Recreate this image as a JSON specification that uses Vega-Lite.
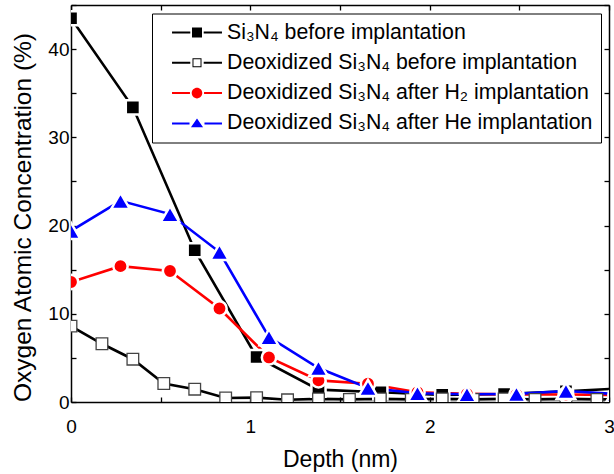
{
  "$schema": "https://vega.github.io/schema/vega-lite/v6.json",
  "width": 538,
  "height": 397,
  "autosize": "none",
  "padding": {"left": 71, "top": 5, "right": 5, "bottom": 72},
  "background": "white",
  "config": {
    "view": {"stroke": null},
    "font": "Liberation Sans",
    "axis": {
      "grid": false,
      "domainColor": "black",
      "domainWidth": 1.5,
      "tickColor": "black",
      "tickWidth": 1.3,
      "labelFont": "Liberation Sans",
      "labelFontSize": 19,
      "labelColor": "black",
      "titleFont": "Liberation Sans",
      "titleFontWeight": "normal",
      "titleColor": "black"
    }
  },
  "datasets": {
    "profiles": [
      {"series": "Si₃N₄ before implantation", "depth": 0, "conc": 43.5},
      {"series": "Si₃N₄ before implantation", "depth": 0.345, "conc": 33.4},
      {"series": "Si₃N₄ before implantation", "depth": 0.69, "conc": 17.2},
      {"series": "Si₃N₄ before implantation", "depth": 1.035, "conc": 5.1},
      {"series": "Si₃N₄ before implantation", "depth": 1.38, "conc": 1.4},
      {"series": "Si₃N₄ before implantation", "depth": 1.725, "conc": 1.1},
      {"series": "Si₃N₄ before implantation", "depth": 2.07, "conc": 0.8},
      {"series": "Si₃N₄ before implantation", "depth": 2.415, "conc": 0.9},
      {"series": "Si₃N₄ before implantation", "depth": 2.76, "conc": 1.2},
      {"series": "Si₃N₄ before implantation", "depth": 3.105, "conc": 1.6},
      {"series": "Deoxidized Si₃N₄ before implantation", "depth": 0, "conc": 8.6},
      {"series": "Deoxidized Si₃N₄ before implantation", "depth": 0.1725, "conc": 6.6},
      {"series": "Deoxidized Si₃N₄ before implantation", "depth": 0.345, "conc": 4.85},
      {"series": "Deoxidized Si₃N₄ before implantation", "depth": 0.5175, "conc": 2.1},
      {"series": "Deoxidized Si₃N₄ before implantation", "depth": 0.69, "conc": 1.45},
      {"series": "Deoxidized Si₃N₄ before implantation", "depth": 0.8625, "conc": 0.45},
      {"series": "Deoxidized Si₃N₄ before implantation", "depth": 1.035, "conc": 0.5},
      {"series": "Deoxidized Si₃N₄ before implantation", "depth": 1.2075, "conc": 0.25},
      {"series": "Deoxidized Si₃N₄ before implantation", "depth": 1.38, "conc": 0.35},
      {"series": "Deoxidized Si₃N₄ before implantation", "depth": 1.5525, "conc": 0.3},
      {"series": "Deoxidized Si₃N₄ before implantation", "depth": 1.725, "conc": 0.35},
      {"series": "Deoxidized Si₃N₄ before implantation", "depth": 1.8975, "conc": 0.3},
      {"series": "Deoxidized Si₃N₄ before implantation", "depth": 2.07, "conc": 0.35},
      {"series": "Deoxidized Si₃N₄ before implantation", "depth": 2.2425, "conc": 0.3},
      {"series": "Deoxidized Si₃N₄ before implantation", "depth": 2.415, "conc": 0.35},
      {"series": "Deoxidized Si₃N₄ before implantation", "depth": 2.5875, "conc": 0.3},
      {"series": "Deoxidized Si₃N₄ before implantation", "depth": 2.76, "conc": 0.35},
      {"series": "Deoxidized Si₃N₄ before implantation", "depth": 2.9325, "conc": 0.3},
      {"series": "Deoxidized Si₃N₄ before implantation", "depth": 3.105, "conc": 0.3},
      {"series": "Deoxidized Si₃N₄ after H₂ implantation", "depth": 0, "conc": 13.6},
      {"series": "Deoxidized Si₃N₄ after H₂ implantation", "depth": 0.276, "conc": 15.4},
      {"series": "Deoxidized Si₃N₄ after H₂ implantation", "depth": 0.552, "conc": 14.85},
      {"series": "Deoxidized Si₃N₄ after H₂ implantation", "depth": 0.828, "conc": 10.6},
      {"series": "Deoxidized Si₃N₄ after H₂ implantation", "depth": 1.104, "conc": 5.05},
      {"series": "Deoxidized Si₃N₄ after H₂ implantation", "depth": 1.38, "conc": 2.45},
      {"series": "Deoxidized Si₃N₄ after H₂ implantation", "depth": 1.656, "conc": 2.07},
      {"series": "Deoxidized Si₃N₄ after H₂ implantation", "depth": 1.932, "conc": 1.1},
      {"series": "Deoxidized Si₃N₄ after H₂ implantation", "depth": 2.208, "conc": 0.92},
      {"series": "Deoxidized Si₃N₄ after H₂ implantation", "depth": 2.484, "conc": 0.85},
      {"series": "Deoxidized Si₃N₄ after H₂ implantation", "depth": 2.76, "conc": 0.85},
      {"series": "Deoxidized Si₃N₄ after H₂ implantation", "depth": 3.036, "conc": 0.8},
      {"series": "Deoxidized Si₃N₄ after He implantation", "depth": 0, "conc": 19.4},
      {"series": "Deoxidized Si₃N₄ after He implantation", "depth": 0.276, "conc": 22.8},
      {"series": "Deoxidized Si₃N₄ after He implantation", "depth": 0.552, "conc": 21.3},
      {"series": "Deoxidized Si₃N₄ after He implantation", "depth": 0.828, "conc": 17.0},
      {"series": "Deoxidized Si₃N₄ after He implantation", "depth": 1.104, "conc": 7.35},
      {"series": "Deoxidized Si₃N₄ after He implantation", "depth": 1.38, "conc": 3.85},
      {"series": "Deoxidized Si₃N₄ after He implantation", "depth": 1.656, "conc": 1.6},
      {"series": "Deoxidized Si₃N₄ after He implantation", "depth": 1.932, "conc": 1.0},
      {"series": "Deoxidized Si₃N₄ after He implantation", "depth": 2.208, "conc": 0.88},
      {"series": "Deoxidized Si₃N₄ after He implantation", "depth": 2.484, "conc": 0.92},
      {"series": "Deoxidized Si₃N₄ after He implantation", "depth": 2.76, "conc": 1.25},
      {"series": "Deoxidized Si₃N₄ after He implantation", "depth": 3.036, "conc": 0.9}
    ]
  },
  "data": {"name": "profiles"},
  "resolve": {"axis": {"x": "independent", "y": "independent"}},
  "layer": [
    {
      "transform": [{"filter": "datum.series === 'Si₃N₄ before implantation'"}],
      "mark": {"type": "line", "strokeWidth": 2.6, "clip": true, "color": "#000000"},
      "encoding": {
        "x": {
          "field": "depth", "type": "quantitative",
          "scale": {"domain": [0, 3], "nice": false, "zero": false},
          "axis": {
            "orient": "bottom",
            "title": "Depth (nm)",
            "titleFontSize": 23,
            "titlePadding": 12,
            "values": [0, 0.5, 1, 1.5, 2, 2.5, 3],
            "labelExpr": "datum.value % 1 === 0 ? format(datum.value, 'd') : ''",
            "tickSize": -5,
            "labelPadding": 20,
            "labelFlush": false
          }
        },
        "y": {
          "field": "conc", "type": "quantitative",
          "scale": {"domain": [0, 45], "nice": false},
          "axis": {
            "orient": "left",
            "title": "Oxygen Atomic Concentration (%)",
            "titleFontSize": 24.5,
            "titlePadding": 12,
            "titleY": 212,
            "values": [0, 5, 10, 15, 20, 25, 30, 35, 40, 45],
            "labelExpr": "datum.value % 10 === 0 ? format(datum.value, 'd') : ''",
            "tickSize": -5,
            "labelPadding": 7,
            "labelFlush": false
          }
        },
        "order": {"field": "depth", "type": "quantitative"}
      }
    },
    {
      "transform": [{"filter": "datum.series === 'Deoxidized Si₃N₄ before implantation'"}],
      "mark": {"type": "line", "strokeWidth": 2.6, "clip": true, "color": "#000000"},
      "encoding": {
        "x": {"field": "depth", "type": "quantitative", "axis": null},
        "y": {"field": "conc", "type": "quantitative", "axis": null},
        "order": {"field": "depth", "type": "quantitative"}
      }
    },
    {
      "transform": [{"filter": "datum.series === 'Deoxidized Si₃N₄ after H₂ implantation'"}],
      "mark": {"type": "line", "strokeWidth": 2.6, "clip": true, "color": "#ff0000"},
      "encoding": {
        "x": {"field": "depth", "type": "quantitative", "axis": null},
        "y": {"field": "conc", "type": "quantitative", "axis": null},
        "order": {"field": "depth", "type": "quantitative"}
      }
    },
    {
      "transform": [{"filter": "datum.series === 'Deoxidized Si₃N₄ after He implantation'"}],
      "mark": {"type": "line", "strokeWidth": 2.6, "clip": true, "color": "#0000ff"},
      "encoding": {
        "x": {"field": "depth", "type": "quantitative", "axis": null},
        "y": {"field": "conc", "type": "quantitative", "axis": null},
        "order": {"field": "depth", "type": "quantitative"}
      }
    },
    {
      "transform": [{"filter": "datum.series === 'Si₃N₄ before implantation'"}],
      "mark": {"type": "point", "shape": "square", "filled": true, "opacity": 1, "clip": true, "fill": "#000000", "stroke": "#ffffff", "strokeWidth": 2.5, "size": 200},
      "encoding": {
        "x": {
          "field": "depth", "type": "quantitative",
          "axis": {"orient": "top", "title": null, "labels": false, "values": [0, 0.5, 1, 1.5, 2, 2.5, 3], "tickSize": -5}
        },
        "y": {
          "field": "conc", "type": "quantitative",
          "axis": {"orient": "right", "title": null, "labels": false, "values": [0, 5, 10, 15, 20, 25, 30, 35, 40, 45], "tickSize": -5}
        }
      }
    },
    {
      "transform": [{"filter": "datum.series === 'Deoxidized Si₃N₄ before implantation'"}],
      "mark": {"type": "point", "shape": "square", "filled": true, "opacity": 1, "clip": true, "fill": "#ffffff", "stroke": "#444444", "strokeWidth": 1.3, "size": 135},
      "encoding": {
        "x": {"field": "depth", "type": "quantitative", "axis": null},
        "y": {"field": "conc", "type": "quantitative", "axis": null}
      }
    },
    {
      "transform": [{"filter": "datum.series === 'Deoxidized Si₃N₄ after H₂ implantation'"}],
      "mark": {"type": "point", "shape": "circle", "filled": true, "opacity": 1, "clip": true, "fill": "#ff0000", "stroke": "#ffffff", "strokeWidth": 2.5, "size": 205},
      "encoding": {
        "x": {"field": "depth", "type": "quantitative", "axis": null},
        "y": {"field": "conc", "type": "quantitative", "axis": null}
      }
    },
    {
      "transform": [{"filter": "datum.series === 'Deoxidized Si₃N₄ after He implantation'"}],
      "mark": {"type": "point", "shape": "triangle-up", "filled": true, "opacity": 1, "clip": true, "fill": "#0000ff", "stroke": "#ffffff", "strokeWidth": 2.5, "size": 345},
      "encoding": {
        "x": {"field": "depth", "type": "quantitative", "axis": null},
        "y": {"field": "conc", "type": "quantitative", "axis": null}
      }
    },
    {
      "transform": [{"filter": "false"}],
      "mark": {"type": "point", "filled": true, "opacity": 1},
      "encoding": {
        "x": {"field": "depth", "type": "quantitative", "axis": null},
        "y": {"field": "conc", "type": "quantitative", "axis": null},
        "color": {
          "field": "series", "type": "nominal",
          "scale": {
            "domain": ["Si₃N₄ before implantation", "Deoxidized Si₃N₄ before implantation", "Deoxidized Si₃N₄ after H₂ implantation", "Deoxidized Si₃N₄ after He implantation"],
            "range": ["#000000", "#000000", "#ff0000", "#0000ff"]
          },
          "legend": {
            "title": null,
            "orient": "none",
            "legendX": 81,
            "legendY": 8.5,
            "direction": "vertical",
            "strokeColor": "black",
            "fillColor": "white",
            "padding": 8,
            "symbolSize": 484,
            "symbolOffset": 26,
            "symbolOpacity": 1,
            "symbolStrokeWidth": 0,
            "labelFontSize": 21.3,
            "labelFont": "Liberation Sans",
            "labelColor": "black",
            "labelOffset": 19,
            "labelLimit": 0,
            "rowPadding": 8.3
          }
        },
        "shape": {
          "field": "series", "type": "nominal",
          "scale": {
            "domain": ["Si₃N₄ before implantation", "Deoxidized Si₃N₄ before implantation", "Deoxidized Si₃N₄ after H₂ implantation", "Deoxidized Si₃N₄ after He implantation"],
            "range": [
              "M-2.27,-0.091H-0.61V0.091H-2.27Z M0.61,-0.091H2.27V0.091H0.61Z M-0.455,-0.455H0.455V0.455H-0.455Z",
              "M-2.27,-0.091H-0.61V0.091H-2.27Z M0.61,-0.091H2.27V0.091H0.61Z M-0.41,-0.41H0.41V0.41H-0.41Z M-0.32,-0.32V0.32H0.32V-0.32Z",
              "M-2.27,-0.091H-0.64V0.091H-2.27Z M0.64,-0.091H2.27V0.091H0.64Z M0.48,0A0.48,0.48,0,1,1,-0.48,0A0.48,0.48,0,1,1,0.48,0Z",
              "M-2.27,-0.091H-0.68V0.091H-2.27Z M0.68,-0.091H2.27V0.091H0.68Z M0,-0.44L0.55,0.36H-0.55Z"
            ]
          }
        }
      }
    }
  ]
}
